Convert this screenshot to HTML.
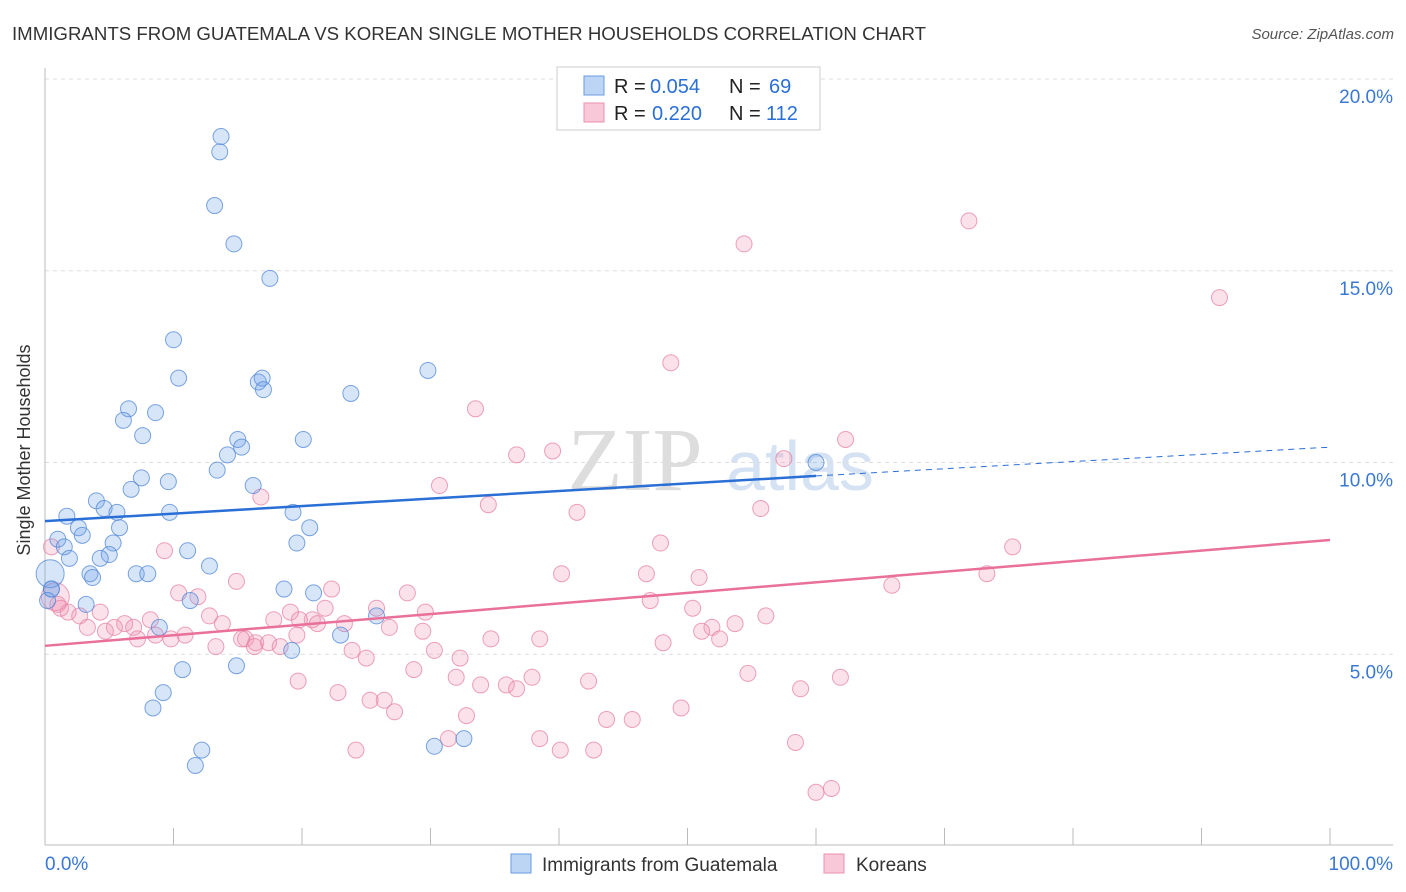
<!DOCTYPE html>
<html><head><meta charset="utf-8">
<style>
body{margin:0;background:#fff;font-family:"Liberation Sans",sans-serif;}
svg{display:block}
</style></head>
<body>
<svg id="c" width="1406" height="892">
<text x="12" y="40" font-size="18" fill="#333" textLength="914" lengthAdjust="spacingAndGlyphs">IMMIGRANTS FROM GUATEMALA VS KOREAN SINGLE MOTHER HOUSEHOLDS CORRELATION CHART</text>
<text x="1394" y="39" font-size="15" fill="#555" font-style="italic" text-anchor="end">Source: ZipAtlas.com</text>
<text x="36" y="456" font-size="18" fill="#333" text-anchor="middle" transform="rotate(-90 30 456)">Single Mother Households</text>
<text x="635" y="490" font-size="90" fill="#ddd" font-family="Liberation Serif" text-anchor="middle">ZIP</text>
<text x="800" y="490" font-size="70" fill="#d5e2f3" text-anchor="middle">atlas</text>
<g id="grid"></g>
<g id="marks"></g>
<g>
<rect x="557" y="67" width="263" height="63" fill="#fff" stroke="#ccc"/>
<rect x="584" y="76" width="20" height="19" fill="#bcd5f5" stroke="#6a9ae0"/>
<rect x="584" y="103" width="20" height="19" fill="#f9c8d8" stroke="#e890b0"/>
<text x="614" y="93" font-size="20" fill="#222">R =</text>
<text x="650" y="93" font-size="20" fill="#2a6fd6">0.054</text>
<text x="729" y="93" font-size="20" fill="#222">N =</text>
<text x="769" y="93" font-size="20" fill="#2a6fd6">69</text>
<text x="614" y="120" font-size="20" fill="#222">R =</text>
<text x="652" y="120" font-size="20" fill="#2a6fd6">0.220</text>
<text x="729" y="120" font-size="20" fill="#222">N =</text>
<text x="766" y="120" font-size="20" fill="#2a6fd6">112</text>
</g>
<g>
<rect x="511" y="854" width="20" height="19" fill="#bcd5f5" stroke="#6a9ae0"/>
<text x="542" y="871" font-size="19" fill="#333">Immigrants from Guatemala</text>
<rect x="824" y="854" width="20" height="19" fill="#f9c8d8" stroke="#e890b0"/>
<text x="856" y="871" font-size="19" fill="#333">Koreans</text>
</g>
</svg>
<script>
const blueX=[13.7,13.6,13.2,14.7,17.5,10.0,10.4,16.6,16.9,17.0,23.8,29.8,6.5,8.6,6.1,7.6,15.0,20.1,15.3,14.2,13.4,7.5,9.6,6.7,16.2,4.0,4.6,5.6,1.7,9.7,19.3,2.6,5.8,20.6,2.9,1.0,1.5,5.3,19.6,11.1,5.0,4.3,1.9,12.8,3.5,7.1,8.0,3.7,18.6,20.9,0.5,11.3,3.2,25.8,8.9,23.0,19.2,14.9,10.7,9.2,8.4,12.2,11.7,30.3,32.6,60.0,0.4,0.5,0.2];
const blueY=[18.5,18.1,16.7,15.7,14.8,13.2,12.2,12.1,12.2,11.9,11.8,12.4,11.4,11.3,11.1,10.7,10.6,10.6,10.4,10.2,9.8,9.6,9.5,9.3,9.4,9.0,8.8,8.7,8.6,8.7,8.7,8.3,8.3,8.3,8.1,8.0,7.8,7.9,7.9,7.7,7.6,7.5,7.5,7.3,7.1,7.1,7.1,7.0,6.7,6.6,6.7,6.4,6.3,6.0,5.7,5.5,5.1,4.7,4.6,4.0,3.6,2.5,2.1,2.6,2.8,10.0,7.1,6.7,6.4];
const pinkX=[71.9,54.4,91.4,48.7,33.5,62.3,36.7,39.5,57.5,30.7,16.8,34.5,41.4,55.7,75.3,9.3,47.9,40.2,46.8,50.9,73.3,14.9,65.9,22.3,28.2,10.4,11.9,47.1,25.8,29.6,21.8,50.4,19.1,1.0,4.3,1.8,2.7,12.8,17.8,20.8,19.8,21.2,8.2,6.2,5.4,23.3,56.1,53.7,51.9,26.8,13.8,6.9,29.4,4.7,3.3,51.1,10.9,8.6,7.2,9.8,15.6,15.3,16.4,19.6,16.3,17.4,18.3,34.7,38.5,52.5,13.3,48.1,23.9,30.3,25.0,32.3,28.7,54.7,32.0,37.9,42.3,61.9,19.7,33.9,35.9,36.7,58.8,22.8,25.3,26.4,27.2,49.5,32.8,43.7,45.7,31.4,38.5,58.4,24.2,40.1,42.7,60.0,61.2,0.8,0.5,1.2];
const pinkY=[16.3,15.7,14.3,12.6,11.4,10.6,10.2,10.3,10.1,9.4,9.1,8.9,8.7,8.8,7.8,7.7,7.9,7.1,7.1,7.0,7.1,6.9,6.8,6.7,6.6,6.6,6.5,6.4,6.2,6.1,6.2,6.2,6.1,6.3,6.1,6.1,6.0,6.0,5.9,5.9,5.9,5.8,5.9,5.8,5.7,5.8,6.0,5.8,5.7,5.7,5.8,5.7,5.6,5.6,5.7,5.6,5.5,5.5,5.4,5.4,5.4,5.4,5.3,5.5,5.2,5.3,5.2,5.4,5.4,5.4,5.2,5.3,5.1,5.1,4.9,4.9,4.6,4.5,4.4,4.4,4.3,4.4,4.3,4.2,4.2,4.1,4.1,4.0,3.8,3.8,3.5,3.6,3.4,3.3,3.3,2.8,2.8,2.7,2.5,2.5,2.5,1.4,1.5,6.5,7.8,6.2];
const blueTrend=[8.47,9.65,10.40];
const pinkTrend=[5.22,7.98];
const yTicks=[5,10,15,20];
const yTickLabels=["5.0%","10.0%","15.0%","20.0%"];
const xTickLabels=["0.0%","100.0%"];
const sx=v=>45+v*12.85, sy=v=>846-v*38.35;
const NS="http://www.w3.org/2000/svg";
function mk(tag,a,parent){const e=document.createElementNS(NS,tag);for(const k in a)e.setAttribute(k,a[k]);parent.appendChild(e);return e;}
const g=document.getElementById('grid'), m=document.getElementById('marks');
yTicks.forEach((t,i)=>{
 const l=mk('line',{x1:45,x2:1393,y1:sy(t),y2:sy(t),stroke:'#ddd','stroke-dasharray':'4,4'},g);
 
 
 const tx=mk('text',{x:1393,y:sy(t)+24,'font-size':19,fill:'#3a78d4','text-anchor':'end'},g);
 tx.textContent=yTickLabels[i];
 
 
});
const topl=mk('line',{x1:45,x2:1393,y1:79,y2:79,stroke:'#ddd','stroke-dasharray':'4,4'},g);


const ax=mk('line',{x1:45,x2:1393,y1:845,y2:845,stroke:'#bbb'},g);


const ay=mk('line',{x1:45,x2:45,y1:68,y2:845,stroke:'#bbb'},g);


for(let i=1;i<=10;i++){
 const t=mk('line',{x1:sx(i*10),x2:sx(i*10),y1:828,y2:845,stroke:'#bbb'},g);
 
 
}
[[0,'start',45],[100,'end',1393]].forEach((d,i)=>{
 const tx=mk('text',{x:d[2],y:870,'font-size':19,fill:'#3a78d4','text-anchor':d[1]},g);
 tx.textContent=xTickLabels[i];
 
 
});
pinkX.forEach((x,i)=>{
 const big=(i===pinkX.length-3);
 const c=mk('circle',{cx:sx(x),cy:sy(pinkY[i]),r:big?14:8,fill:'rgba(242,150,180,0.28)',stroke:'rgba(230,130,165,0.75)','stroke-width':1},m);
 
 
});
blueX.forEach((x,i)=>{
 const big=(i===blueX.length-3);
 const c=mk('circle',{cx:sx(x),cy:sy(blueY[i]),r:big?14:8,fill:'rgba(110,160,235,0.28)',stroke:'rgba(80,135,215,0.75)','stroke-width':1},m);
 
 
});
const bl=mk('line',{x1:sx(0),y1:sy(blueTrend[0]),x2:sx(60),y2:sy(blueTrend[1]),stroke:'#2a6fd6','stroke-width':2.5},m);


const bd=mk('line',{x1:sx(60),y1:sy(blueTrend[1]),x2:sx(100),y2:sy(blueTrend[2]),stroke:'#2a6fd6','stroke-width':1,'stroke-dasharray':'6,5'},m);


const pl=mk('line',{x1:sx(0),y1:sy(pinkTrend[0]),x2:sx(100),y2:sy(pinkTrend[1]),stroke:'#e8709a','stroke-width':2.5},m);


</script>
</body></html>
